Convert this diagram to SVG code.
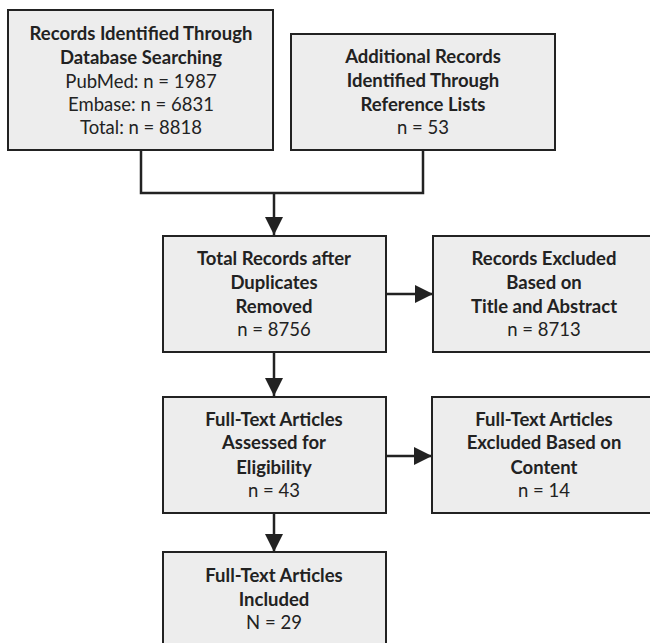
<svg xmlns="http://www.w3.org/2000/svg" width="650" height="643" viewBox="0 0 650 643">
<style>
.box{fill:#ededed;stroke:#222;stroke-width:2}
.t{font-family:Lato,"Open Sans",sans-serif;font-size:18.5px;fill:#222;text-anchor:middle}
.b{font-weight:bold}
.c{fill:none;stroke:#222;stroke-width:2.5}
</style>
<defs>
<marker id="ah" markerUnits="userSpaceOnUse" markerWidth="19" markerHeight="18" refX="18" refY="9" orient="auto">
<path d="M0,0 L18,9 L0,18 Z" fill="#222"/>
</marker>
</defs>
<rect width="650" height="643" fill="#fff"/>
<g id="connectors">
<polyline class="c" points="141,150 141,193 423,193 423,150"/>
<line class="c" x1="274" y1="193" x2="274" y2="235" marker-end="url(#ah)"/>
<line class="c" x1="386" y1="294" x2="433" y2="294" marker-end="url(#ah)"/>
<line class="c" x1="274" y1="352" x2="274" y2="396" marker-end="url(#ah)"/>
<line class="c" x1="386" y1="456" x2="432" y2="456" marker-end="url(#ah)"/>
<line class="c" x1="274" y1="513" x2="274" y2="552" marker-end="url(#ah)"/>
</g>
<g id="n1">
<rect class="box" x="8" y="10" width="265" height="140"/>
<text class="t b" x="141" y="40">Records Identified Through</text>
<text class="t b" x="141" y="64">Database Searching</text>
<text class="t" x="141" y="88">PubMed: n = 1987</text>
<text class="t" x="141" y="111">Embase: n = 6831</text>
<text class="t" x="141" y="134">Total: n = 8818</text>
</g>
<g id="n2">
<rect class="box" x="291" y="34" width="264" height="116"/>
<text class="t b" x="423" y="63">Additional Records</text>
<text class="t b" x="423" y="87">Identified Through</text>
<text class="t b" x="423" y="111">Reference Lists</text>
<text class="t" x="423" y="134">n = 53</text>
</g>
<g id="n3">
<rect class="box" x="163" y="236" width="223" height="116"/>
<text class="t b" x="274" y="265">Total Records after</text>
<text class="t b" x="274" y="289">Duplicates</text>
<text class="t b" x="274" y="313">Removed</text>
<text class="t" x="274" y="336">n = 8756</text>
</g>
<g id="n4">
<rect class="box" x="433" y="236" width="222" height="116"/>
<text class="t b" x="544" y="265">Records Excluded</text>
<text class="t b" x="544" y="289">Based on</text>
<text class="t b" x="544" y="313">Title and Abstract</text>
<text class="t" x="544" y="336">n = 8713</text>
</g>
<g id="n5">
<rect class="box" x="163" y="397" width="223" height="116"/>
<text class="t b" x="274" y="426">Full-Text Articles</text>
<text class="t b" x="274" y="449">Assessed for</text>
<text class="t b" x="274" y="474">Eligibility</text>
<text class="t" x="274" y="497">n = 43</text>
</g>
<g id="n6">
<rect class="box" x="432" y="397" width="223" height="116"/>
<text class="t b" x="544" y="426">Full-Text Articles</text>
<text class="t b" x="544" y="449">Excluded Based on</text>
<text class="t b" x="544" y="474">Content</text>
<text class="t" x="544" y="497">n = 14</text>
</g>
<g id="n7">
<rect class="box" x="163" y="552" width="223" height="100"/>
<text class="t b" x="274" y="582">Full-Text Articles</text>
<text class="t b" x="274" y="606">Included</text>
<text class="t" x="274" y="629">N = 29</text>
</g>
</svg>
